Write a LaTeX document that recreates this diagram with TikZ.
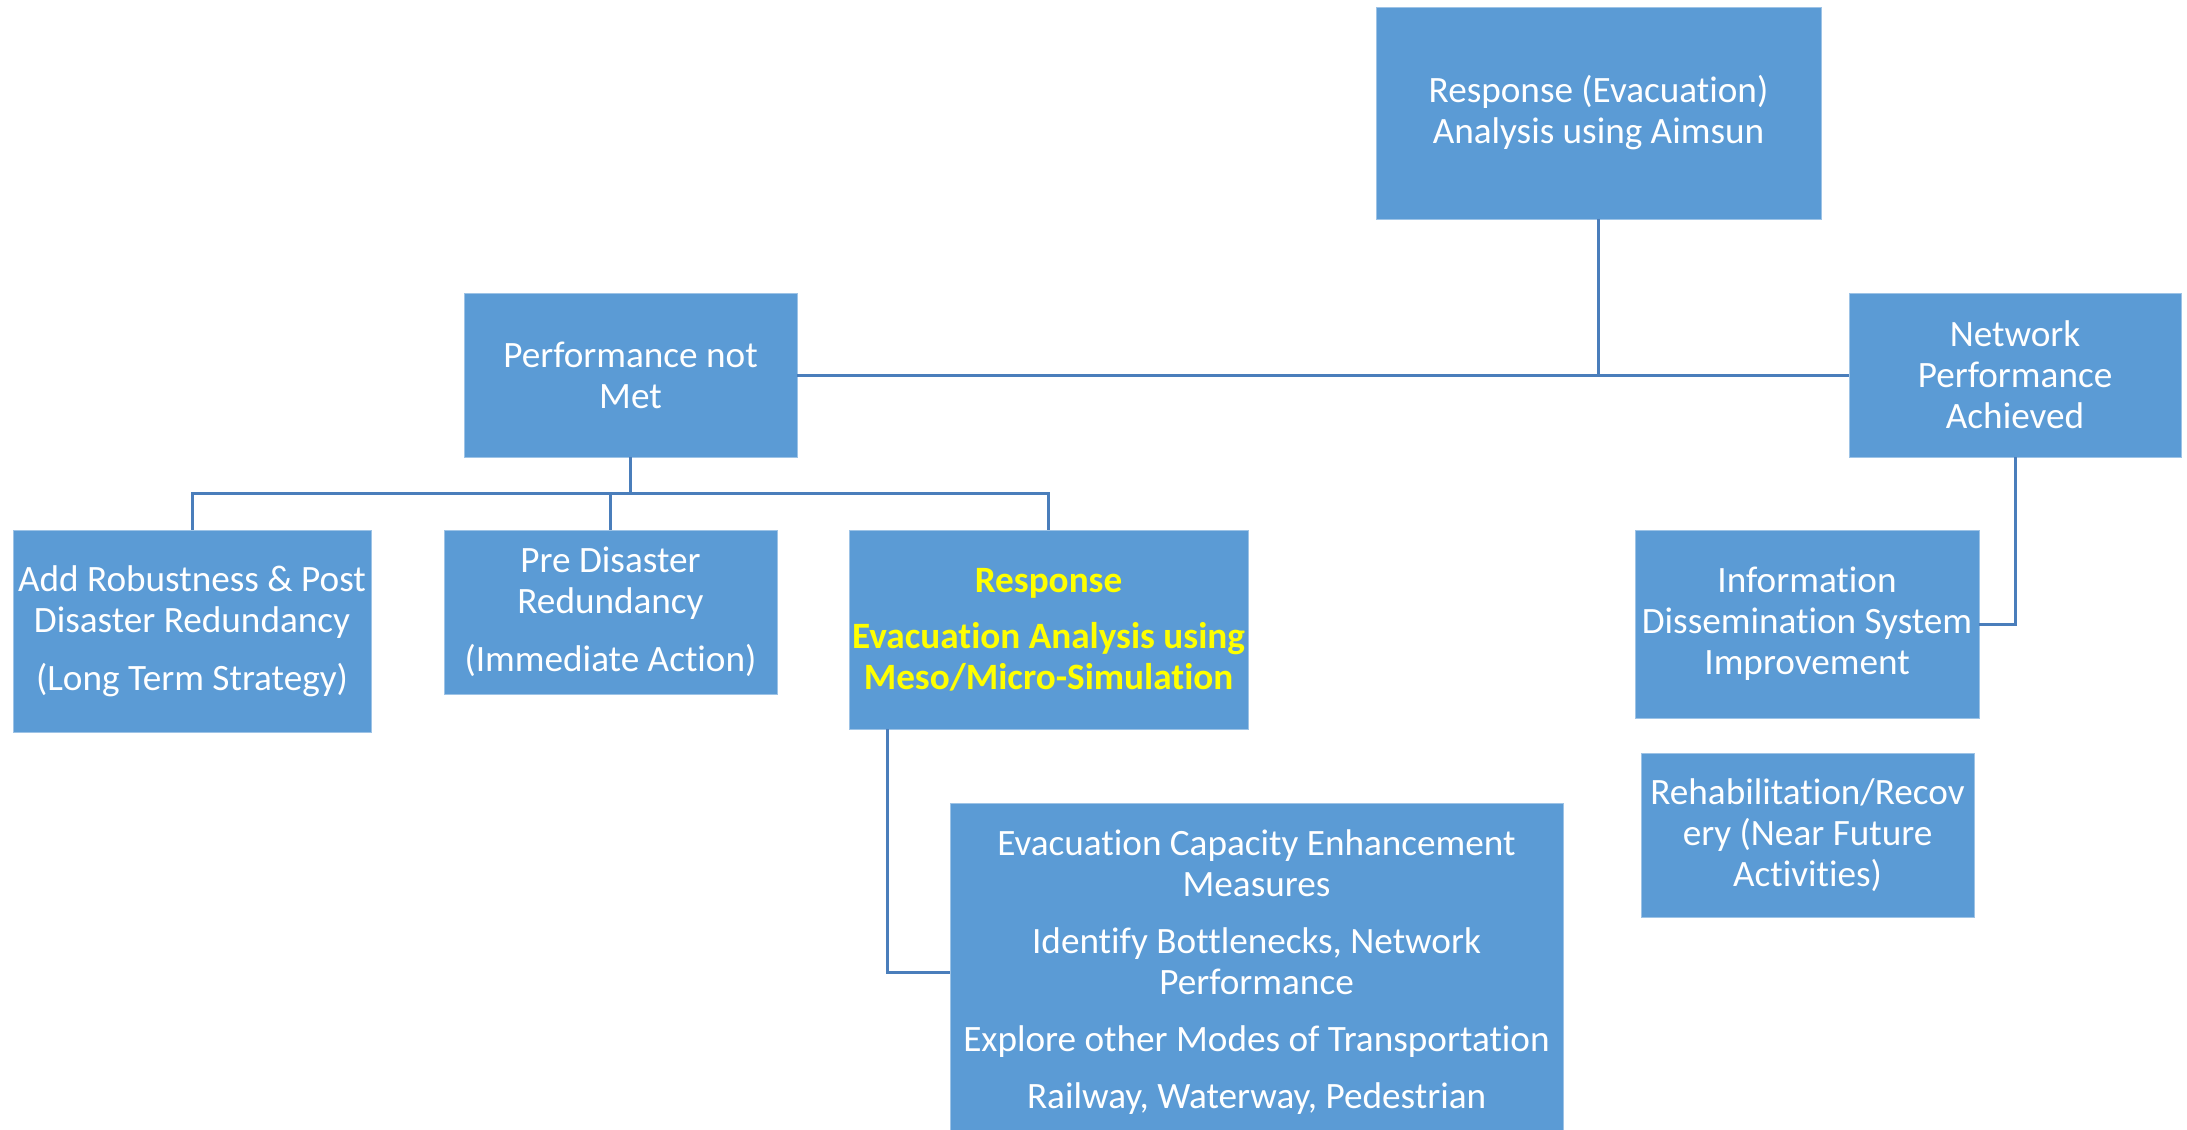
\documentclass[tikz,border=0pt]{standalone}
\usepackage{fontspec}
\setmainfont{Carlito}[Ligatures=NoCommon]
\usetikzlibrary{calc}
\definecolor{boxblue}{RGB}{91,155,213}
\definecolor{linkblue}{RGB}{74,126,187}
\definecolor{hiyellow}{RGB}{255,255,0}
\tikzset{
  box/.style={rectangle, fill=boxblue, draw=boxblue!60!white, line width=0.4pt,
    inner sep=0pt, align=center, text=white,
    font=\fontsize{18.6}{20.5}\selectfont},
  conn/.style={draw=linkblue, line width=1.5pt}
}
\begin{document}
\begin{tikzpicture}[x=0.5pt,y=-0.5pt]
\useasboundingbox (0,0) rectangle (2187,1129);
\fill[white] (0,0) rectangle (2187,1129);

\node[box, minimum width=222.5pt, minimum height=106pt] (top) at (1598.5,113)
  {Response (Evacuation)\\Analysis using Aimsun};
\node[box, minimum width=166.5pt, minimum height=82pt] (perf) at (630.5,375)
  {Performance not\\Met};
\node[box, minimum width=166pt, minimum height=82pt] (net) at (2015,375)
  {Network\\Performance\\Achieved};
\node[box, minimum width=179pt, minimum height=101pt] (add) at (192,631)
  {Add Robustness \& Post\\Disaster Redundancy\\[8.5pt](Long Term Strategy)};
\node[box, minimum width=166.5pt, minimum height=82pt] (pre) at (610.5,612)
  {Pre Disaster\\Redundancy\\[8.5pt](Immediate Action)};
\node[box, minimum width=199.5pt, minimum height=99.5pt, text=hiyellow,
  font=\fontsize{18.6}{20.5}\selectfont\bfseries] (resp) at (1048.5,629.5)
  {Response\\[7.5pt]Evacuation Analysis using\\Meso/Micro-Simulation};
\node[box, minimum width=306.5pt, minimum height=169pt] (evac) at (1256.5,972)
  {Evacuation Capacity Enhancement\\Measures\\[8pt]Identify Bottlenecks, Network\\Performance\\[8pt]Explore other Modes of Transportation\\[8pt]Railway, Waterway, Pedestrian};
\node[box, minimum width=172pt, minimum height=94pt] (info) at (1807,624)
  {Information\\Dissemination System\\Improvement};
\node[box, minimum width=166.5pt, minimum height=82pt] (rehab) at (1807.5,835)
  {Rehabilitation/Recov\\ery (Near Future\\Activities)};

\coordinate (bus) at (0,493);
\draw[conn] (perf.east) -- (net.west);
\draw[conn] (top.south) -- (top.south |- perf.east);
\draw[conn] (perf.south) -- (perf.south |- bus);
\draw[conn] (add.north) -- (add.north |- bus) -| (resp.north);
\draw[conn] (pre.north) -- (pre.north |- bus);
\draw[conn] ($(resp.south west)+(39,0)$) |- (evac.west);
\draw[conn] (net.south) |- (info.east);
\end{tikzpicture}
\end{document}
